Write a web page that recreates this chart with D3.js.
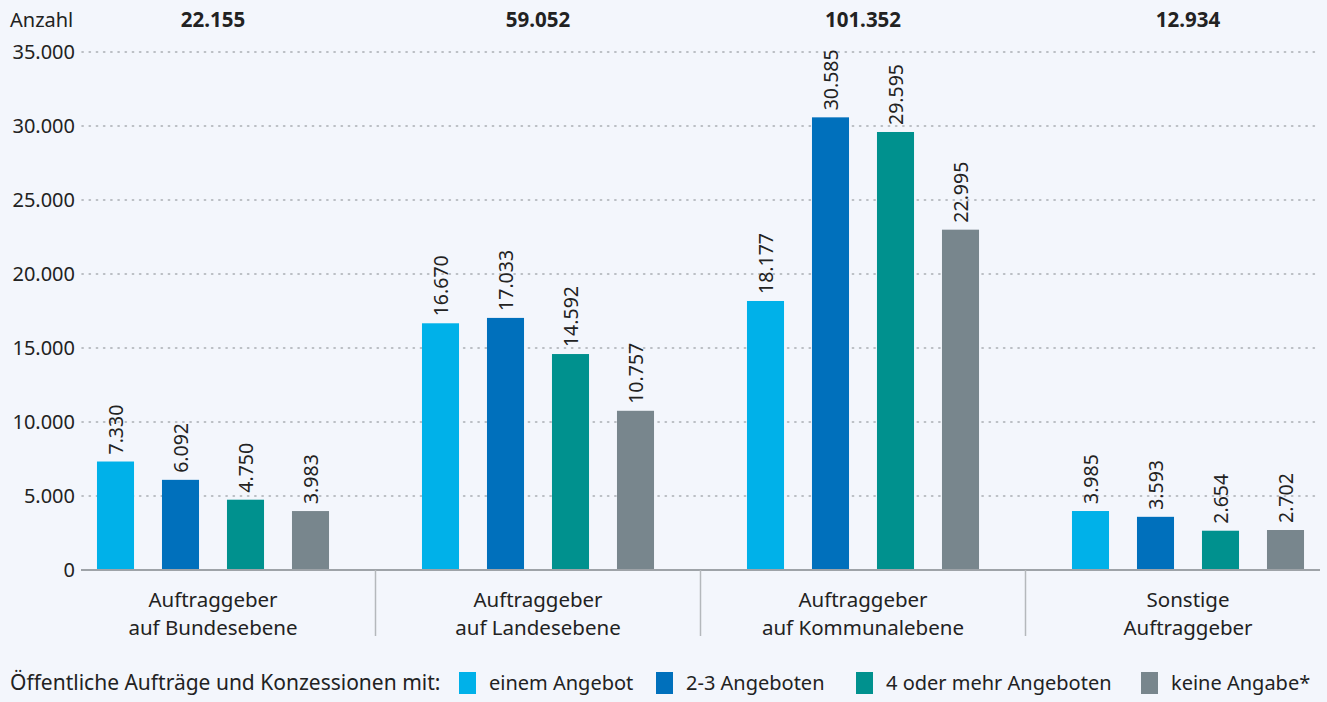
<!DOCTYPE html>
<html><head><meta charset="utf-8">
<script src="https://cdn.jsdelivr.net/npm/d3@7"></script>
<style>
html,body{margin:0;padding:0;background:#f3f6fc;}
svg{display:block;font-family:"Noto Sans","Open Sans",sans-serif;}
</style></head>
<body>
<svg id="c" width="1327" height="702"></svg>
<script>
const groups = ["Auftraggeber|auf Bundesebene","Auftraggeber|auf Landesebene","Auftraggeber|auf Kommunalebene","Sonstige|Auftraggeber"];
const totals = ["22.155","59.052","101.352","12.934"];
const seriesNames = ["einem Angebot","2-3 Angeboten","4 oder mehr Angeboten","keine Angabe*"];
const einemAngebot = [7330, 16670, 18177, 3985];
const zweiDreiAngebote = [6092, 17033, 30585, 3593];
const vierOderMehr = [4750, 14592, 29595, 2654];
const keineAngabe = [3983, 10757, 22995, 2702];
const yTicks = [0, 5000, 10000, 15000, 20000, 25000, 30000, 35000];
const colors = ["#00b1e9", "#0070bc", "#00918e", "#78868d"];

const seriesValues = [einemAngebot, zweiDreiAngebote, vierOderMehr, keineAngabe];
const fmt = v => d3.format(",")(v).replace(/,/g, ".");

const svg = d3.select("#c");
const y = d3.scaleLinear().domain([0, 35000]).range([570, 52]);
const x0 = d3.scaleBand().domain(groups).range([50.5, 1350.5]).padding(0);
const x1 = d3.scaleBand().domain(seriesNames)
  .range([x0.bandwidth()*0.1, x0.bandwidth()*0.9]).paddingInner(0.43).paddingOuter(0.215);

// gridlines
svg.append("g").selectAll("line").data(yTicks.filter(t => t > 0)).join("line")
  .attr("x1", 82).attr("x2", 1320)
  .attr("y1", d => y(d)).attr("y2", d => y(d))
  .attr("stroke", "#a9adb2").attr("stroke-width", 1.6)
  .attr("stroke-dasharray", "1.2,6").attr("stroke-linecap", "round");

// y tick labels
svg.append("g").selectAll("text").data(yTicks).join("text")
  .attr("x", 75).attr("y", d => y(d)).attr("dy", "0.36em")
  .attr("text-anchor", "end").attr("font-size", 20).attr("fill", "#222")
  .text(d => fmt(d));

svg.append("text").attr("x", 10).attr("y", 27).attr("font-size", 20).attr("fill", "#222").text("Anzahl");

// totals
svg.append("g").selectAll("text").data(groups).join("text")
  .attr("x", d => x0(d) + x0.bandwidth()/2).attr("y", 27)
  .attr("text-anchor", "middle").attr("font-size", 20.5).attr("font-weight", "bold").attr("fill", "#222")
  .text((d, i) => totals[i]);

// bars
const data = [];
groups.forEach((g, gi) => seriesNames.forEach((s, si) => data.push({g, s, si, v: seriesValues[si][gi]})));
svg.append("g").selectAll("rect").data(data).join("rect")
  .attr("x", d => x0(d.g) + x1(d.s)).attr("width", x1.bandwidth())
  .attr("y", d => y(d.v)).attr("height", d => y(0) - y(d.v))
  .attr("fill", d => colors[d.si]);

// value labels
svg.append("g").selectAll("text").data(data).join("text")
  .attr("transform", d => `translate(${x0(d.g) + x1(d.s) + x1.bandwidth()/2},${y(d.v) - 7}) rotate(-90)`)
  .attr("dy", "0.36em").attr("font-size", 19.5).attr("fill", "#222")
  .text(d => fmt(d.v));

// axis line
svg.append("line").attr("x1", 81).attr("x2", 1320).attr("y1", y(0)).attr("y2", y(0))
  .attr("stroke", "#9ea3a8").attr("stroke-width", 2);

// separators
svg.append("g").selectAll("line").data(groups.slice(1)).join("line")
  .attr("x1", d => x0(d)).attr("x2", d => x0(d)).attr("y1", y(0)).attr("y2", 636)
  .attr("stroke", "#b4b8bc").attr("stroke-width", 1.5);

// group labels
const gl = svg.append("g").selectAll("text").data(groups).join("text")
  .attr("x", d => x0(d) + x0.bandwidth()/2).attr("y", 607)
  .attr("text-anchor", "middle").attr("font-size", 20.5).attr("fill", "#222");
gl.selectAll("tspan").data(d => d.split("|").map(t => ({t, x: x0(d) + x0.bandwidth()/2}))).join("tspan")
  .attr("x", d => d.x).attr("dy", (d, i) => i ? 28 : 0).text(d => d.t);

// legend
const ly = 683;
svg.append("text").attr("x", 10).attr("y", ly + 7).attr("font-size", 21).attr("fill", "#222")
  .text("Öffentliche Aufträge und Konzessionen mit:");
const legX = [459, 656, 856, 1141];
const lg = svg.append("g").selectAll("g").data(seriesNames).join("g")
  .attr("transform", (d, i) => `translate(${legX[i]},${ly})`);
lg.append("rect").attr("x", 0).attr("y", -11).attr("width", 17).attr("height", 22).attr("fill", (d, i) => colors[i]);
lg.append("text").attr("x", 30).attr("y", 7).attr("font-size", 20).attr("fill", "#222").text(d => d);
</script>
</body></html>
